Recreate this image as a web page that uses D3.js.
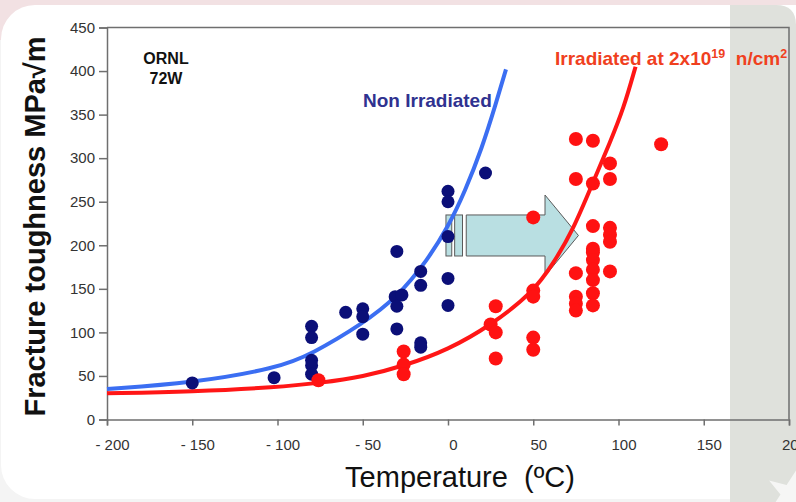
<!DOCTYPE html>
<html>
<head>
<meta charset="utf-8">
<script src="https://cdn.jsdelivr.net/npm/d3@7"></script>
<style>
  body { margin: 0; background: #fff; }
  svg { display: block; font-family: "Liberation Sans", Arial, sans-serif; }
</style>
</head>
<body>
<div id="chart"></div>
<script>
// axis ticks
const xTicks = [-200, -150, -100, -50, 0, 50, 100, 150, 200];
const xTickLabels = ["- 200", "- 150", "- 100", "- 50", "0", "50", "100", "150", "200"];
const yTicks = [0, 50, 100, 150, 200, 250, 300, 350, 400, 450];

// measured points, [temperature C, toughness]
const nonIrradiatedPoints = [
  [-150, 42], [-102, 48], [-80, 107], [-80, 94], [-80, 68], [-80, 62], [-80, 52],
  [-60, 123], [-50, 127], [-50, 118], [-50, 98], [-30, 193], [-31, 141], [-27, 143],
  [-30, 130], [-30, 104], [-16, 170], [-16, 154], [-16, 88], [-16, 83],
  [0, 262], [0, 250], [0, 210], [0, 162], [0, 131], [22, 283]
];
const irradiatedPoints = [
  [-76, 45], [-26, 78], [-26, 63], [-26, 52], [25, 109], [28, 130], [28, 100], [28, 70],
  [50, 232], [50, 148], [50, 141], [50, 94], [50, 80],
  [75, 322], [75, 276], [75, 168], [75, 141], [75, 133], [75, 125],
  [85, 320], [85, 271], [85, 222], [85, 196], [85, 192], [85, 183], [85, 172],
  [85, 160], [85, 145], [85, 131],
  [95, 294], [95, 276], [95, 220], [95, 212], [95, 204], [95, 170], [125, 316]
];

// fitted curves
const nonIrradiatedCurve = [
  [-200, 35], [-150, 42], [-100, 59], [-80, 75], [-50, 110], [-30, 140],
  [-12, 183], [0, 221], [10, 262], [20, 312], [28, 362], [34, 402]
];
const irradiatedCurve = [
  [-200, 30], [-150, 32], [-100, 37], [-75, 42], [-50, 49], [-25, 62], [0, 80],
  [25, 108], [50, 146], [62, 180], [73, 216], [85, 272], [95, 318], [103, 357], [110, 405]
];

const W = 796, H = 502;
const svg = d3.select("#chart").append("svg").attr("width", W).attr("height", H);

// slide background
svg.append("rect").attr("width", W).attr("height", 40).attr("fill", "#f2e1e3");
svg.append("rect").attr("y", 40).attr("width", W).attr("height", H - 40).attr("fill", "#f4f4f4");
svg.append("rect").attr("x", 1).attr("y", 5).attr("width", 830).attr("height", 494)
  .attr("rx", 34).attr("fill", "#fff");
svg.append("path")
  .attr("d", "M730,5 H776 Q796,5 796,25 V502 H730 Z")
  .attr("fill", "#dfe1dc");
svg.append("path")
  .attr("d", d3.symbol(d3.symbolStar, 700)())
  .attr("transform", "translate(790,494) rotate(15)")
  .attr("fill", "#fff").attr("opacity", 0.7);

const x = d3.scaleLinear().domain([-200, 200]).range([107, 789]);
const y = d3.scaleLinear().domain([0, 450]).range([419.5, 27.5]);

const axisColor = "#6f6f6f";

// frame top and right
svg.append("path")
  .attr("d", `M${x(-200)},${y(450)} H${x(200)} V${y(0)}`)
  .attr("fill", "none").attr("stroke", axisColor).attr("stroke-width", 1.5);

const gx = svg.append("g").attr("transform", `translate(0,${y(0)})`)
  .call(d3.axisBottom(x).tickValues(xTicks).tickSize(6)
    .tickFormat((d, i) => xTickLabels[i]));
gx.selectAll("text").attr("dx", 5).attr("y", 20)
  .attr("font-size", 15).attr("fill", "#333").attr("font-family", null);

const gy = svg.append("g").attr("transform", `translate(${x(-200)},0)`)
  .call(d3.axisLeft(y).tickValues(yTicks).tickSize(8));
gy.selectAll("text").attr("x", -12)
  .attr("font-size", 15).attr("fill", "#333").attr("font-family", null);

[gx, gy].forEach(g => {
  g.select(".domain").attr("stroke", axisColor).attr("stroke-width", 1.5);
  g.selectAll(".tick line").attr("stroke", axisColor).attr("stroke-width", 1.5);
});

// axis titles
svg.append("text")
  .attr("transform", `translate(45,${(y(0) + y(450)) / 2 + 3}) rotate(-90)`)
  .attr("text-anchor", "middle").attr("font-size", 29).attr("font-weight", "bold")
  .attr("fill", "#111").text("Fracture toughness MPa\u221Am");
svg.append("text")
  .attr("x", 460).attr("y", 487).attr("text-anchor", "middle")
  .attr("font-size", 29).attr("fill", "#111")
  .text("Temperature \u00A0(\u00BAC)");

// annotations
const ornl = svg.append("text").attr("text-anchor", "middle")
  .attr("font-size", 16).attr("font-weight", "bold").attr("fill", "#111");
ornl.append("tspan").attr("x", 166).attr("y", 64).text("ORNL");
ornl.append("tspan").attr("x", 166).attr("y", 84).text("72W");

svg.append("text").attr("x", 363).attr("y", 107)
  .attr("font-size", 19).attr("font-weight", "bold").attr("fill", "#2f3290")
  .text("Non Irradiated");

const irr = svg.append("text").attr("x", 555).attr("y", 65)
  .attr("font-size", 19).attr("font-weight", "bold").attr("fill", "#f0401e");
irr.append("tspan").text("Irradiated at 2x10");
irr.append("tspan").attr("font-size", 12.5).attr("dy", -7).text("19");
irr.append("tspan").attr("dy", 7).text("\u00A0 n/cm");
irr.append("tspan").attr("font-size", 12.5).attr("dy", -7).text("2");

// striped arrow, data coordinates
const arrowFill = "#b9dfe2", arrowStroke = "#5a5a5a";
const aTop = 234.8, aBot = 187.7;
[[-1.2, 2.2], [3.9, 8.5]].forEach(([a, b]) => {
  svg.append("rect")
    .attr("x", x(a)).attr("y", y(aTop))
    .attr("width", x(b) - x(a)).attr("height", y(aBot) - y(aTop))
    .attr("fill", arrowFill).attr("stroke", arrowStroke).attr("stroke-width", 1);
});
const arrowPts = [
  [10.7, aTop], [56.9, aTop], [56.9, 257.7], [76.5, (aTop + aBot) / 2],
  [56.9, 164.7], [56.9, aBot], [10.7, aBot]
];
svg.append("path")
  .attr("d", "M" + arrowPts.map(p => x(p[0]) + "," + y(p[1])).join("L") + "Z")
  .attr("fill", arrowFill).attr("stroke", arrowStroke).attr("stroke-width", 1);

// curves
const line = d3.line().x(d => x(d[0])).y(d => y(d[1])).curve(d3.curveBasis);
svg.append("path").datum(nonIrradiatedCurve).attr("d", line)
  .attr("fill", "none").attr("stroke", "#3b6ef2").attr("stroke-width", 4);
svg.append("path").datum(irradiatedCurve).attr("d", line)
  .attr("fill", "none").attr("stroke", "#ff1616").attr("stroke-width", 4);

// points
svg.append("g").selectAll("circle").data(nonIrradiatedPoints).join("circle")
  .attr("cx", d => x(d[0])).attr("cy", d => y(d[1])).attr("r", 6.5)
  .attr("fill", "#0b0f78");
svg.append("g").selectAll("circle").data(irradiatedPoints).join("circle")
  .attr("cx", d => x(d[0])).attr("cy", d => y(d[1])).attr("r", 7)
  .attr("fill", "#ff1212");
</script>
</body>
</html>
